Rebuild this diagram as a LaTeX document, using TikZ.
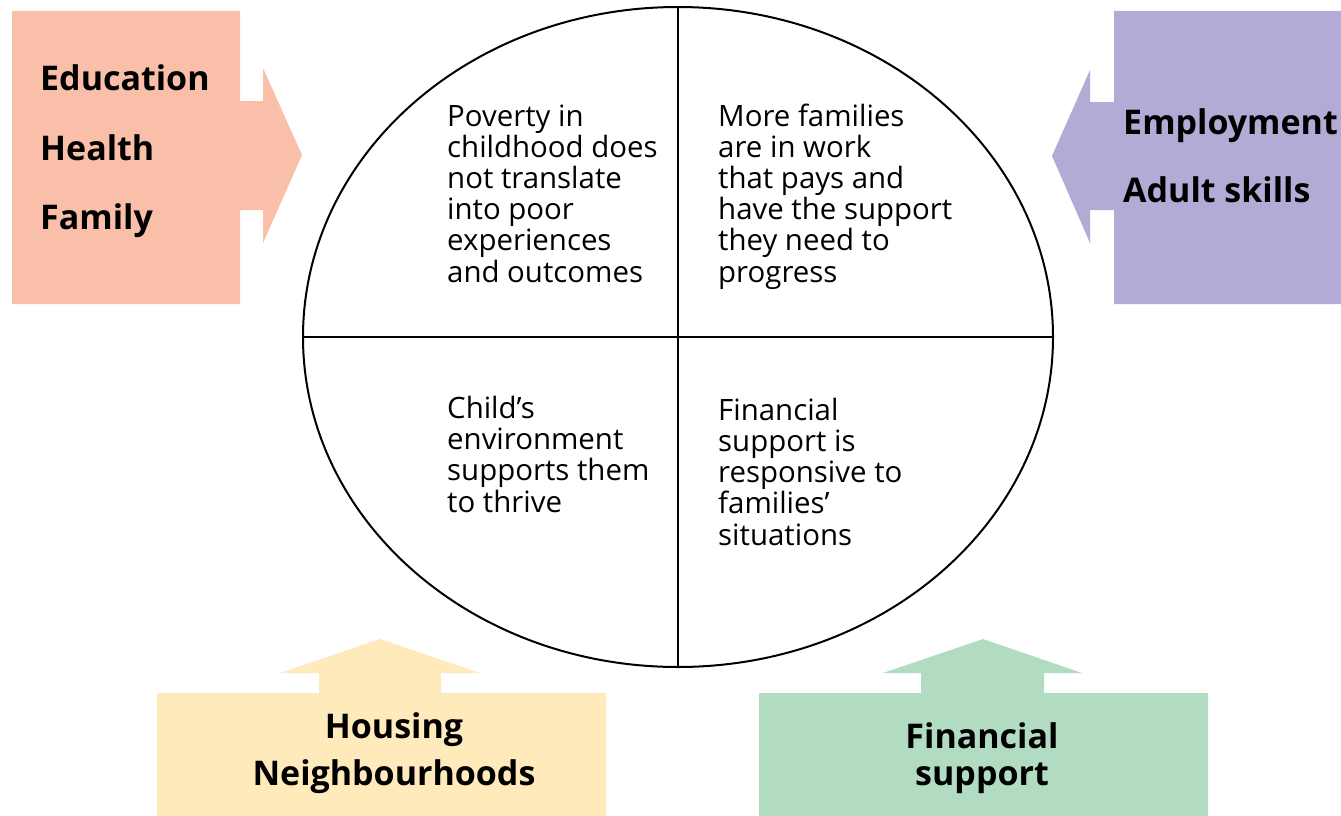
\documentclass[tikz,border=0pt]{standalone}
\usepackage{fontspec}
\setmainfont{Open Sans}
\usetikzlibrary{shapes.geometric}
\definecolor{salmon}{HTML}{F9BFA8}
\definecolor{lilac}{HTML}{B1ABD5}
\definecolor{butter}{HTML}{FEEABB}
\definecolor{mint}{HTML}{B2DCC2}
\begin{document}
\begin{tikzpicture}[x=1pt,y=-1pt,
  lbl/.style={font=\fontsize{34}{38}\selectfont\bfseries,inner sep=0pt,anchor=base west},
  clbl/.style={font=\fontsize{34}{38}\selectfont\bfseries,inner sep=0pt,anchor=base},
  body/.style={font=\fontsize{29.4}{31.2}\selectfont,inner sep=0pt,anchor=base west,align=left}]
\useasboundingbox (0,0) rectangle (1341,816);
% left box
\fill[salmon] (12,11) -- (240,11) -- (240,101) -- (263,101) -- (263,68) -- (302,155) -- (263,243) -- (263,210) -- (240,210) -- (240,304) -- (12,304) -- cycle;
% right box
\fill[lilac] (1341,11) -- (1114,11) -- (1114,102) -- (1090,102) -- (1090,70) -- (1052,156) -- (1090,243) -- (1090,210) -- (1114,210) -- (1114,304) -- (1341,304) -- cycle;
% bottom left
\fill[butter] (157,816) -- (157,693) -- (319,693) -- (319,673) -- (280,673) -- (380,639) -- (480,673) -- (441,673) -- (441,693) -- (606,693) -- (606,816) -- cycle;
% bottom right
\fill[mint] (759,816) -- (759,693) -- (921,693) -- (921,673) -- (883,673) -- (983,639) -- (1082,673) -- (1044,673) -- (1044,693) -- (1208,693) -- (1208,816) -- cycle;
% circle
\node[draw,line width=2pt,ellipse,minimum width=750pt,minimum height=660pt,inner sep=0pt] (c) at (678,337) {};
\draw[line width=1.5pt] (c.north) -- (c.south);
\draw[line width=1.5pt] (c.west) -- (c.east);
% labels
\node[lbl] (ed) at (40,91) {Education};
\node[lbl] (he) at (40,160) {Health};
\node[lbl] (fa) at (40,229) {Family};
\node[lbl] (em) at (1123,134) {Employment};
\node[lbl] (as) at (1123,202) {Adult skills};
\node[clbl] (ho) at (394,738) {Housing};
\node[clbl] (ne) at (394,785) {Neighbourhoods};
\node[clbl] (fi) at (982,748) {Financial};
\node[clbl] (su) at (982,785) {support};
% quadrant text (anchored at baseline of last line)
\node[body] (q1) at (447,282) {Poverty in\\childhood does\\not translate\\into poor\\experiences\\and outcomes};
\node[body] (q2) at (718,282) {More families\\are in work\\that pays and\\have the support\\they need to\\progress};
\node[body] (q3) at (447,512) {Child’s\\environment\\supports them\\to thrive};
\node[body] (q4) at (718,545) {Financial\\support is\\responsive to\\families’\\situations};
\end{tikzpicture}
\end{document}
